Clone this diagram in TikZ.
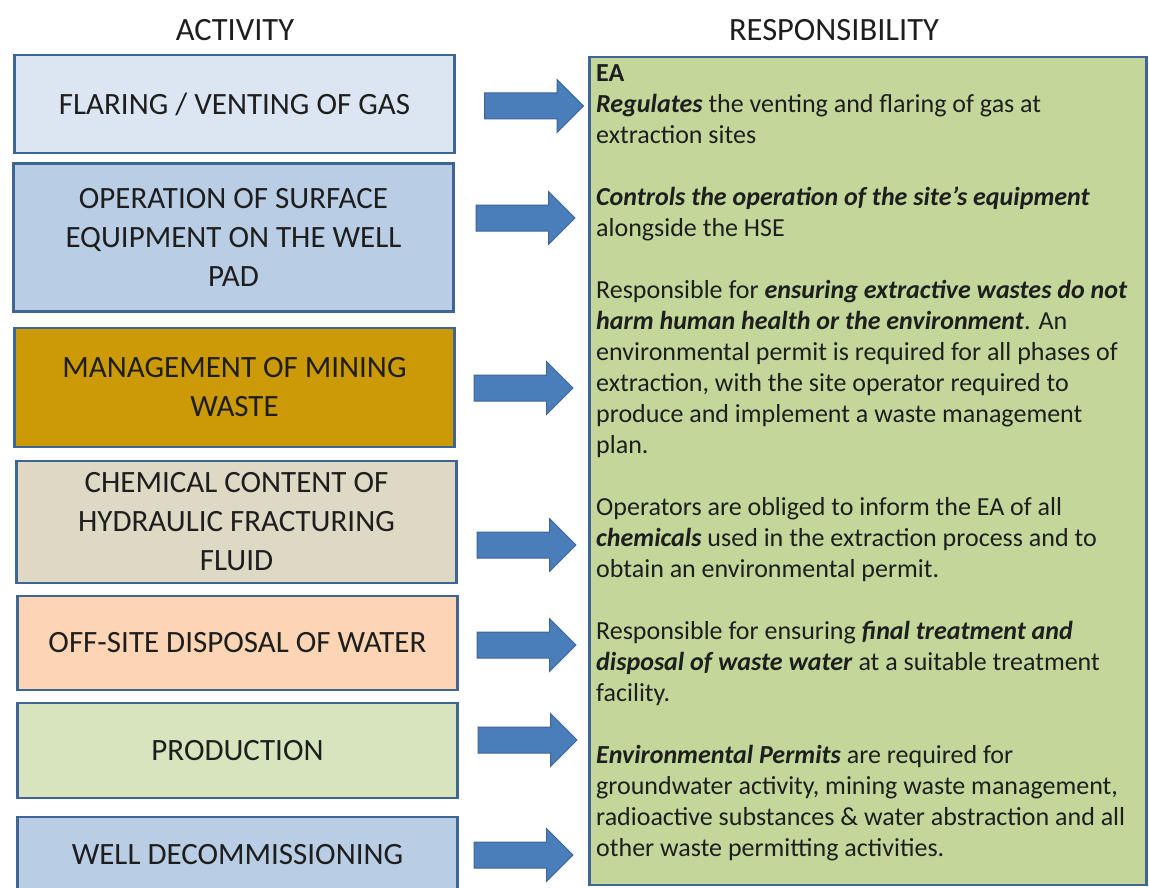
\documentclass[tikz,border=0pt]{standalone}
\usepackage{fontspec}
\setmainfont{Carlito}
\usetikzlibrary{shapes.arrows}
\definecolor{bord}{HTML}{3F6594}
\definecolor{c1}{HTML}{DCE6F2}
\definecolor{c2}{HTML}{B9CDE5}
\definecolor{c3}{HTML}{CC9A06}
\definecolor{c4}{HTML}{DDD9C4}
\definecolor{c5}{HTML}{FCD5B5}
\definecolor{c6}{HTML}{D7E4BD}
\definecolor{cg}{HTML}{C4D79B}
\definecolor{arr}{HTML}{4A7EBB}
\definecolor{txt}{HTML}{1E1E1E}
\newcommand{\bi}[1]{\textbf{\textit{#1}}}
\begin{document}
\begin{tikzpicture}[x=1pt,y=-1pt,
  actbox/.style={draw=bord, line width=2.5pt, minimum width=440pt, align=center, text=txt,
    font=\fontsize{31}{39}\selectfont, inner sep=0pt},
  blockarrow/.style={single arrow, draw=bord, line width=1pt, fill=arr, inner sep=12.5pt,
    minimum height=99pt, single arrow head extend=13.5pt, single arrow tip angle=90},
  header/.style={text=txt, font=\fontsize{32.5}{36}\selectfont}]
\useasboundingbox (0,0) rectangle (1149,888);
\clip (0,0) rectangle (1149,888);
\fill[white] (0,0) rectangle (1149,888);
\node[header] (hact) at (235,30) {ACTIVITY};
\node[header] (hresp) at (834,30) {RESPONSIBILITY};
\node[actbox, fill=c1, minimum height=98pt] (b1) at (234.5,104) {FLARING / VENTING OF GAS};
\node[actbox, fill=c2, minimum height=148pt] (b2) at (233.5,237.5) {OPERATION OF SURFACE\\EQUIPMENT ON THE WELL\\PAD};
\node[actbox, fill=c3, minimum height=119pt] (b3) at (234.5,387.5) {MANAGEMENT OF MINING\\WASTE};
\node[actbox, fill=c4, minimum height=122pt] (b4) at (236.5,522) {CHEMICAL CONTENT OF\\HYDRAULIC FRACTURING\\FLUID};
\node[actbox, fill=c5, minimum height=94pt] (b5) at (237.5,643) {OFF-SITE DISPOSAL OF WATER};
\node[actbox, fill=c6, minimum height=95pt] (b6) at (237.5,750.5) {PRODUCTION};
\node[actbox, fill=c2, minimum height=100pt] (b7) at (237.5,867) {};
\node[text=txt, font=\fontsize{31}{39}\selectfont] (b7t) at (237.5,855) {WELL DECOMMISSIONING};
\node[draw=bord, line width=2.5pt, fill=cg, minimum width=557pt, minimum height=828pt] (resp) at (868,471) {};
\node[anchor=north west, align=left, text=txt, inner sep=0pt,
  font=\fontsize{26}{31}\selectfont] (resptext) at (596,64) {%
\textbf{EA}\\
\bi{Regulates} the venting and flaring of gas at\\
extraction sites\\[31pt]
\bi{Controls the operation of the site’s equipment}\\
alongside the HSE\\[31pt]
Responsible for \bi{ensuring extractive wastes do not}\\
\bi{harm human health or the environment}. An\\
environmental permit is required for all phases of\\
extraction, with the site operator required to\\
produce and implement a waste management\\
plan.\\[31pt]
Operators are obliged to inform the EA of all\\
\bi{chemicals} used in the extraction process and to\\
obtain an environmental permit.\\[31pt]
Responsible for ensuring \bi{final treatment and}\\
\bi{disposal of waste water} at a suitable treatment\\
facility.\\[31pt]
\bi{Environmental Permits} are required for\\
groundwater activity, mining waste management,\\
radioactive substances \& water abstraction and all\\
other waste permitting activities.};
\node[blockarrow] (a1) at (527.5,106) {};
\node[blockarrow] (a2) at (519,218) {};
\node[blockarrow] (a3) at (517,388) {};
\node[blockarrow] (a4) at (520,545) {};
\node[blockarrow] (a5) at (520,645) {};
\node[blockarrow] (a6) at (521,740) {};
\node[blockarrow] (a7) at (517,855) {};
\end{tikzpicture}
\end{document}
